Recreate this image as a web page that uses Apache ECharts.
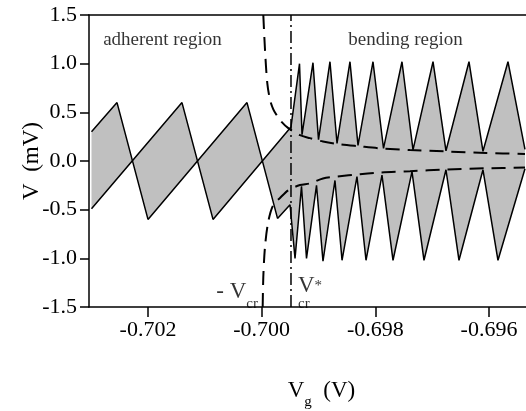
<!DOCTYPE html>
<html>
<head>
<meta charset="utf-8">
<script src="https://cdn.jsdelivr.net/npm/echarts@6/dist/echarts.min.js"></script>
<style>
html, body { margin: 0; padding: 0; background: #fff; }
#main { width: 526px; height: 411px; }
</style>
</head>
<body>
<div id="main"></div>
<script>
// gate voltage ticks (V)
var xTicks = [-0.702, -0.700, -0.698, -0.696];

// sawtooth 1: adherent branch, then the lower teeth of the bending region
var lineA = [
    [-0.702994, 0.30], [-0.702545, 0.60], [-0.702000, -0.60], [-0.700258, 0.60],
    [-0.699721, -0.59], [-0.699501, -0.45], [-0.699413, -1.00], [-0.699299, -0.26],
    [-0.699211, -1.00], [-0.699035, -0.25], [-0.698921, -1.03], [-0.698710, -0.20],
    [-0.698586, -1.02], [-0.698323, -0.16], [-0.698164, -1.02], [-0.697883, -0.145],
    [-0.697689, -1.02], [-0.697355, -0.11], [-0.697144, -1.02], [-0.696757, -0.09],
    [-0.696528, -1.02], [-0.696106, -0.09], [-0.695842, -1.02], [-0.695367, -0.08]
];

// sawtooth 2: adherent branch, then the upper teeth
var lineB = [
    [-0.702994, -0.49], [-0.701402, 0.60], [-0.700856, -0.60], [-0.699484, 0.35],
    [-0.699334, 1.00], [-0.699290, 0.27], [-0.699097, 1.01], [-0.699000, 0.22],
    [-0.698798, 1.02], [-0.698674, 0.18], [-0.698446, 1.02], [-0.698305, 0.16],
    [-0.698041, 1.02], [-0.697856, 0.13], [-0.697531, 1.02], [-0.697337, 0.115],
    [-0.696985, 1.02], [-0.696757, 0.105], [-0.696352, 1.02], [-0.696106, 0.10],
    [-0.695666, 1.02], [-0.695367, 0.12]
];

// dashed critical curves
var envUpper = [
    [-0.699971, 1.50], [-0.699941, 1.14], [-0.699901, 0.80], [-0.699853, 0.63],
    [-0.699795, 0.53], [-0.699736, 0.47], [-0.699677, 0.42], [-0.699537, 0.34],
    [-0.699326, 0.265], [-0.699150, 0.235], [-0.698921, 0.20], [-0.698674, 0.175],
    [-0.698270, 0.15], [-0.697918, 0.13], [-0.697390, 0.112], [-0.696757, 0.098],
    [-0.696053, 0.083], [-0.695367, 0.072]
];
var envLower = [
    [-0.699982, -1.50], [-0.699971, -1.19], [-0.699941, -0.88], [-0.699883, -0.62],
    [-0.699795, -0.45], [-0.699677, -0.38], [-0.699531, -0.30], [-0.699326, -0.247],
    [-0.699150, -0.23], [-0.698921, -0.18], [-0.698674, -0.16], [-0.698270, -0.135],
    [-0.697918, -0.118], [-0.697390, -0.105], [-0.696757, -0.088], [-0.696053, -0.075],
    [-0.695367, -0.068]
];

// V*_cr position
var vcrStar = -0.699484;

var xMin = -0.703038, xMax = -0.695349;
var serif = '"Liberation Serif", "Times New Roman", serif';

var chart = echarts.init(document.getElementById('main'));

var option = {
    animation: false,
    grid: { left: 89, right: 0, top: 15, bottom: 104, outerBoundsMode: 'none' },
    xAxis: [{
        type: 'value',
        min: xMin,
        max: xMax,
        position: 'bottom',
        axisLine: { show: true, onZero: false, lineStyle: { color: '#000', width: 1.5 } },
        axisTick: { show: true, customValues: xTicks, length: 10, lineStyle: { color: '#000', width: 1.5 } },
        axisLabel: {
            customValues: xTicks,
            formatter: function (v) { return v.toFixed(3); },
            color: '#000', fontFamily: serif, fontSize: 22, margin: 12
        },
        splitLine: { show: false },
        name: '{v|V}{s|g}{v|  (V)}',
        nameLocation: 'middle',
        nameGap: 72,
        nameMoveOverlap: false,
        nameTextStyle: {
            padding: [0, 0, 0, 28],
            rich: {
                v: { fontFamily: serif, fontSize: 23, color: '#000' },
                s: { fontFamily: serif, fontSize: 15, color: '#000', verticalAlign: 'bottom', padding: [0, 0, -8, 0] }
            }
        }
    }, {
        type: 'value',
        min: xMin,
        max: xMax,
        position: 'top',
        axisLine: { show: true, onZero: false, lineStyle: { color: '#000', width: 1.5 } },
        axisTick: { show: false },
        axisLabel: { show: false },
        splitLine: { show: false }
    }],
    yAxis: {
        type: 'value',
        min: -1.5,
        max: 1.5,
        interval: 0.5,
        axisLine: { show: true, onZero: false, lineStyle: { color: '#000', width: 1.5 } },
        axisTick: { show: true, length: 9, lineStyle: { color: '#000', width: 1.5 } },
        axisLabel: {
            formatter: function (v) { return v.toFixed(1); },
            color: '#000', fontFamily: serif, fontSize: 22, margin: 12
        },
        splitLine: { show: false },
        name: 'V  (mV)',
        nameLocation: 'middle',
        nameRotate: 90,
        nameGap: 46,
        nameMoveOverlap: false,
        nameTextStyle: { fontFamily: serif, fontSize: 23, color: '#000' }
    },
    series: [
        {
            // grey band between the two sawtooth traces
            type: 'custom',
            clip: true,
            z: 1,
            data: [[lineA[0][0], 0]],
            renderItem: function (params, api) {
                var pts = lineA.map(function (p) { return api.coord(p); });
                var back = lineB.slice().reverse().map(function (p) { return api.coord(p); });
                return {
                    type: 'polygon',
                    shape: { points: pts.concat(back) },
                    style: { fill: '#c0c0c0', stroke: null }
                };
            }
        },
        {
            type: 'line', data: lineA, symbol: 'none', z: 2,
            lineStyle: { color: '#000', width: 1.5 }
        },
        {
            type: 'line', data: lineB, symbol: 'none', z: 2,
            lineStyle: { color: '#000', width: 1.5 }
        },
        {
            type: 'line', data: envUpper, symbol: 'none', z: 3, smooth: 0.3,
            lineStyle: { color: '#000', width: 2, type: [14, 8] }
        },
        {
            type: 'line', data: envLower, symbol: 'none', z: 3, smooth: 0.3,
            lineStyle: { color: '#000', width: 2, type: [14, 8] }
        },
        {
            type: 'line', data: [[vcrStar, -1.5], [vcrStar, 1.5]], symbol: 'none', z: 3,
            lineStyle: { color: '#000', width: 1.5, type: [12, 4, 2, 4] }
        },
        {
            // text annotations anchored in data coordinates
            type: 'scatter',
            symbolSize: 0,
            z: 4,
            silent: true,
            data: [
                { value: [-0.701745, 1.24], label: { formatter: 'adherent region', align: 'center' } },
                { value: [-0.697469, 1.24], label: { formatter: 'bending region', align: 'center' } },
                { value: [-0.700065, -1.35], label: { formatter: '{v|- V}{s|cr}', align: 'right' } },
                { value: [-0.699361, -1.35], label: { formatter: '{v|V}{t|*\ncr}', align: 'left' } }
            ],
            label: {
                show: true,
                position: 'inside',
                verticalAlign: 'middle',
                color: '#000',
                fontFamily: serif,
                fontSize: 19,
                rich: {
                    v: { fontFamily: serif, fontSize: 23, color: '#000' },
                    s: { fontFamily: serif, fontSize: 15, color: '#000', verticalAlign: 'bottom', padding: [0, 0, -8, 0] },
                    t: { fontFamily: serif, fontSize: 15, color: '#000', lineHeight: 12 }
                }
            }
        }
    ]
};

chart.setOption(option);
</script>
</body>
</html>
